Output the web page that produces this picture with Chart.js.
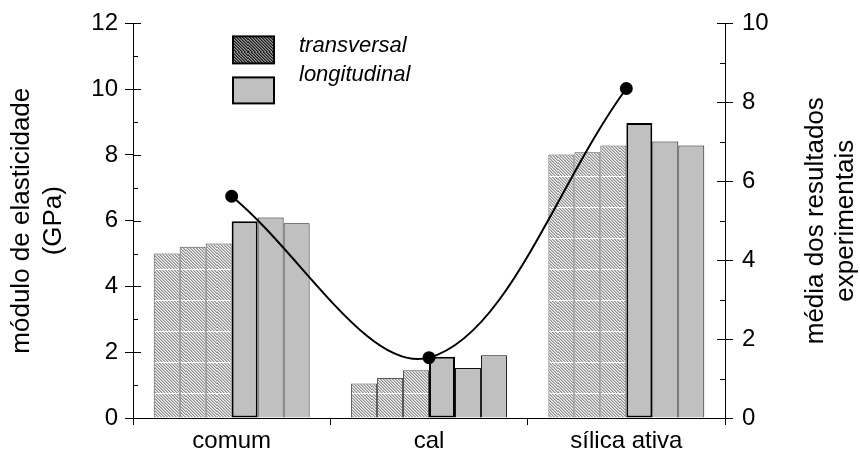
<!DOCTYPE html>
<html><head><meta charset="utf-8">
<script src="https://cdn.jsdelivr.net/npm/chart.js@4/dist/chart.umd.min.js"></script>
<style>html,body{margin:0;padding:0;background:#fff}#wrap{width:860px;height:467px}</style>
</head><body><div id="wrap"><canvas id="c" width="860" height="467"></canvas></div>
<script>
// ---- data ----
const categories = ['comum', 'cal', 'sílica ativa'];
const seriesLabels = ['transversal', 'longitudinal'];
const transversal1 = [5.00, 1.05, 8.01];
const transversal2 = [5.21, 1.22, 8.08];
const transversal3 = [5.31, 1.45, 8.29];
const longitudinal1 = [5.98, 1.86, 8.97];
const longitudinal2 = [6.10, 1.52, 8.41];
const longitudinal3 = [5.92, 1.91, 8.29];
const mediaValues = [5.62, 1.53, 8.35];
const leftTickValues = [0, 2, 4, 6, 8, 10, 12];
const rightTickValues = [0, 2, 4, 6, 8, 10];
const leftTitle = ['módulo de elasticidade', '(GPa)'];
const rightTitle = ['média dos resultados', 'experimentais'];

const FONT = '"Liberation Sans", Arial, sans-serif';
const canvas = document.getElementById('c');
const ctx0 = canvas.getContext('2d');

function makeHatch(cols, seams) {
  const s = 31;
  const c = document.createElement('canvas'); c.width = s; c.height = s;
  const g = c.getContext('2d');
  const img = g.createImageData(s, s);
  const nums = cols.map(h => parseInt(h.slice(1), 16));
  for (let y = 0; y < s; y++) for (let x = 0; x < s; x++) {
    let col = nums[(((x - y) % 3) + 3) % 3];
    if (seams && y === 0) col = 0xffffff;
    const i = (y * s + x) * 4;
    img.data[i] = (col >> 16) & 255; img.data[i + 1] = (col >> 8) & 255; img.data[i + 2] = col & 255; img.data[i + 3] = 255;
  }
  g.putImageData(img, 0, 0);
  const p = ctx0.createPattern(c, 'repeat');
  if (p.setTransform) p.setTransform(new DOMMatrix().translate(0, 21));
  return p;
}
const hatch = makeHatch(['#8e8e8e', '#c2c2c2', '#f2f2f2'], true);
const hatchDark = makeHatch(['#1a1a1a', '#555555', '#9a9a9a'], false);
const GRAY = '#c0c0c0';

function barDs(label, data, fill, border, bw) {
  return { type: 'bar', label, data, backgroundColor: fill, borderColor: border, borderWidth: bw,
    borderSkipped: bw > 1 ? false : 'start', yAxisID: 'y', order: 2 };
}

const datasets = [
  barDs(seriesLabels[0], transversal1, hatch, '#555', 1),
  barDs(seriesLabels[0], transversal2, hatch, '#555', 1),
  barDs(seriesLabels[0], transversal3, hatch, '#555', 1),
  barDs(seriesLabels[1], longitudinal1, GRAY, '#000', 2),
  barDs(seriesLabels[1], longitudinal2, GRAY, '#111', 1),
  barDs(seriesLabels[1], longitudinal3, GRAY, '#111', 1),
  { type: 'line', label: 'média', data: mediaValues, yAxisID: 'y1', borderColor: '#000', borderWidth: 2,
    pointRadius: 5.5, pointBackgroundColor: '#000', pointBorderColor: '#000', tension: 0.35, fill: false, order: 0 }
];

const decor = {
  id: 'decor',
  afterDraw(chart) {
    const { ctx, chartArea: a, scales } = chart;
    ctx.save();
    ctx.strokeStyle = '#000'; ctx.lineWidth = 1;
    ctx.beginPath();
    for (let v = 0; v <= 12; v++) {
      const y = Math.round(scales.y.getPixelForValue(v)) + 0.5;
      const len = leftTickValues.includes(v) ? 8 : 5;
      ctx.moveTo(a.left, y); ctx.lineTo(a.left + len, y);
    }
    for (let v = 0; v <= 10; v++) {
      const y = Math.round(scales.y1.getPixelForValue(v)) + 0.5;
      const len = rightTickValues.includes(v) ? 8 : 5;
      ctx.moveTo(a.right, y); ctx.lineTo(a.right - len, y);
    }
    ctx.stroke();
    // axis titles
    ctx.fillStyle = '#000';
    ctx.font = '26px ' + FONT;
    ctx.textAlign = 'center'; ctx.textBaseline = 'middle';
    const cy = (a.top + a.bottom) / 2;
    const put = (t, x) => { ctx.save(); ctx.translate(x, cy); ctx.rotate(-Math.PI / 2); ctx.fillText(t, 0, 0); ctx.restore(); };
    put(leftTitle[0], a.left - 111);
    put(leftTitle[1], a.left - 79);
    put(rightTitle[0], a.right + 91);
    put(rightTitle[1], a.right + 121);
    // legend
    const lx = a.left + 100, ly = a.top + 13;
    ctx.fillStyle = hatchDark; ctx.fillRect(lx, ly, 41, 27);
    ctx.lineWidth = 2; ctx.strokeStyle = '#000'; ctx.strokeRect(lx, ly, 41, 27);
    ctx.fillStyle = GRAY; ctx.fillRect(lx, ly + 41, 41, 26);
    ctx.strokeRect(lx, ly + 41, 41, 26);
    ctx.fillStyle = '#000';
    ctx.font = 'italic 22px ' + FONT;
    ctx.textAlign = 'left'; ctx.textBaseline = 'alphabetic';
    ctx.fillText(seriesLabels[0], lx + 66, ly + 16);
    ctx.fillText(seriesLabels[1], lx + 66, ly + 45);
    ctx.restore();
  }
};

const tickFont = { family: FONT, size: 24 };
new Chart(canvas, {
  data: { labels: categories, datasets },
  options: {
    responsive: false, animation: false, devicePixelRatio: 1,
    layout: { padding: { top: 18, left: 0, right: 0, bottom: 0 } },
    plugins: { legend: { display: false }, tooltip: { enabled: false } },
    datasets: { bar: { categoryPercentage: 0.79, barPercentage: 1.0 } },
    scales: {
      x: {
        type: 'category', offset: true,
        grid: { offset: true, drawOnChartArea: false, drawTicks: true, tickLength: 7, color: '#000', lineWidth: 1 },
        border: { display: true, color: '#000', width: 1 },
        ticks: { color: '#000', font: tickFont, padding: 2, maxRotation: 0, autoSkip: false },
        afterFit: s => { s.height = 49; }
      },
      y: {
        position: 'left', min: 0, max: 12,
        ticks: { stepSize: 1, autoSkip: false, color: '#000', font: tickFont, padding: 7,
          callback: v => leftTickValues.includes(v) ? String(v) : '' },
        grid: { drawOnChartArea: false, drawTicks: true, tickLength: 8,
          color: c => (c.tick && leftTickValues.includes(c.tick.value)) ? '#000' : 'rgba(0,0,0,0)' },
        border: { display: true, color: '#000', width: 1 },
        afterFit: s => { s.width = 133; }
      },
      y1: {
        position: 'right', min: 0, max: 10,
        ticks: { stepSize: 1, autoSkip: false, color: '#000', font: tickFont, padding: 9,
          callback: v => rightTickValues.includes(v) ? String(v) : '' },
        grid: { drawOnChartArea: false, drawTicks: true, tickLength: 8,
          color: c => (c.tick && rightTickValues.includes(c.tick.value)) ? '#000' : 'rgba(0,0,0,0)' },
        border: { display: true, color: '#000', width: 1 },
        afterFit: s => { s.width = 135; }
      }
    }
  },
  plugins: [decor]
});
</script></body></html>
